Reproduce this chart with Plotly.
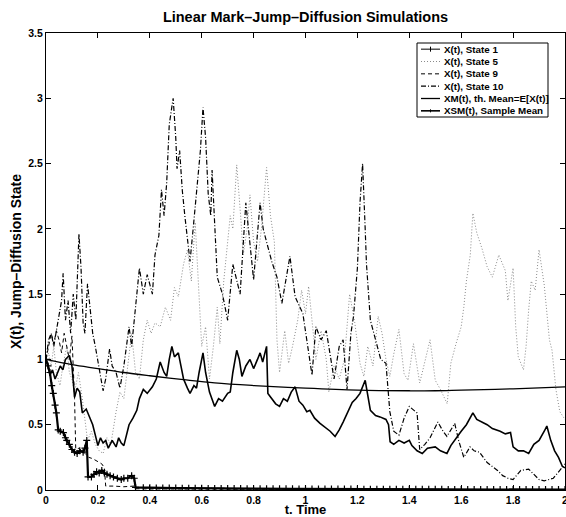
import plotly.graph_objects as go

# ---- data ----
x_tick_vals = [0, 0.2, 0.4, 0.6, 0.8, 1.0, 1.2, 1.4, 1.6, 1.8, 2.0]
x_tick_text = ["0", "0.2", "0.4", "0.6", "0.8", "1", "1.2", "1.4", "1.6", "1.8", "2"]
y_tick_vals = [0, 0.5, 1.0, 1.5, 2.0, 2.5, 3.0, 3.5]
y_tick_text = ["0", "0.5", "1", "1.5", "2", "2.5", "3", "3.5"]

series_names = ["X(t), State 1", "X(t), State 5", "X(t), State 9", "X(t), State 10",
                "XM(t), th. Mean=E[X(t)]", "XSM(t), Sample Mean"]

# State 1 (solid with markers), decays quickly to ~0
t_s1 = [0, 0.008, 0.015, 0.022, 0.028, 0.035, 0.04, 0.047, 0.055, 0.067, 0.075, 0.08, 0.09, 0.1,
        0.11, 0.12, 0.13, 0.143, 0.15, 0.157, 0.162, 0.175, 0.185, 0.195, 0.205, 0.215, 0.225,
        0.235, 0.247, 0.26, 0.275, 0.29, 0.3, 0.315, 0.33, 0.34, 0.345,
        0.375, 0.4, 0.425, 0.45, 0.475, 0.5, 0.525, 0.55, 0.575, 0.6, 0.625, 0.65, 0.675, 0.7,
        0.725, 0.75, 0.775, 0.8, 0.825, 0.85, 0.875, 0.9, 0.925, 0.95, 0.975, 1.0, 1.025, 1.05,
        1.075, 1.1, 1.125, 1.15, 1.175, 1.2, 1.225, 1.25, 1.275, 1.3, 1.325, 1.35, 1.375, 1.4,
        1.425, 1.45, 1.475, 1.5, 1.525, 1.55, 1.575, 1.6, 1.625, 1.65, 1.675, 1.7, 1.725, 1.75,
        1.775, 1.8, 1.825, 1.85, 1.875, 1.9, 1.925, 1.95, 1.975, 2.0]
x_s1 = [1.0, 0.95, 0.9, 0.8, 0.74, 0.65, 0.59, 0.46, 0.45, 0.44, 0.4, 0.38, 0.35, 0.31,
        0.29, 0.28, 0.3, 0.29, 0.32, 0.38, 0.1, 0.1, 0.12, 0.14, 0.13, 0.15, 0.13,
        0.12, 0.11, 0.1, 0.09, 0.08, 0.09, 0.09, 0.11, 0.09, 0.02,
        0.018, 0.017, 0.016, 0.016, 0.015, 0.015, 0.014, 0.014, 0.013, 0.013, 0.012, 0.012, 0.012, 0.011,
        0.011, 0.011, 0.010, 0.010, 0.010, 0.010, 0.009, 0.009, 0.009, 0.009, 0.008, 0.008, 0.008, 0.008,
        0.008, 0.007, 0.007, 0.007, 0.007, 0.007, 0.006, 0.006, 0.006, 0.006, 0.006, 0.006, 0.005, 0.005,
        0.005, 0.005, 0.005, 0.005, 0.005, 0.004, 0.004, 0.004, 0.004, 0.004, 0.004, 0.004, 0.004, 0.004,
        0.003, 0.003, 0.003, 0.003, 0.003, 0.003, 0.003, 0.003, 0.003, 0.003]

# State 5 (gray dotted)
t_s5 = [0, 0.01, 0.02, 0.03, 0.04, 0.054, 0.065, 0.08, 0.09, 0.1, 0.11, 0.125, 0.14, 0.15, 0.16,
        0.175, 0.19, 0.205, 0.22, 0.235, 0.25, 0.27, 0.285, 0.3, 0.315, 0.33, 0.345, 0.36, 0.375,
        0.39, 0.405, 0.42, 0.44, 0.46, 0.48, 0.495, 0.51, 0.53, 0.545, 0.56, 0.575, 0.59, 0.6,
        0.615, 0.63, 0.645, 0.66, 0.67, 0.685, 0.7, 0.71, 0.72, 0.735, 0.75, 0.76, 0.775, 0.786,
        0.8, 0.815, 0.83, 0.85, 0.865, 0.88, 0.89, 0.9, 0.92, 0.935, 0.95, 0.97, 0.985, 1.0,
        1.012, 1.025, 1.04, 1.06, 1.08, 1.09, 1.11, 1.13, 1.15, 1.17, 1.19, 1.21, 1.225, 1.24,
        1.26, 1.28, 1.295, 1.31, 1.325, 1.34, 1.36, 1.38, 1.395, 1.416, 1.44, 1.45, 1.48, 1.5,
        1.52, 1.546, 1.56, 1.58, 1.6, 1.61, 1.62, 1.635, 1.645, 1.66, 1.68, 1.7, 1.72, 1.745,
        1.77, 1.78, 1.8, 1.81, 1.82, 1.84, 1.85, 1.86, 1.87, 1.885, 1.9, 1.92, 1.94, 1.95,
        1.965, 1.98, 2.0]
x_s5 = [1.0, 1.05, 0.95, 1.1, 0.9, 0.8, 0.95, 1.1, 0.9, 0.85, 0.75, 0.9, 0.7, 0.55, 0.38,
        0.45, 0.35, 0.3, 0.28, 0.4, 0.35, 0.6, 0.75, 0.7, 0.95, 1.2, 0.9, 0.85, 1.15,
        1.3, 1.2, 1.28, 1.25, 1.4, 1.3, 1.55, 1.48, 1.73, 1.84, 1.6, 2.05, 1.43, 1.1,
        1.25, 0.85, 1.1, 1.4, 1.12, 1.6, 1.9, 2.1, 2.0, 2.49, 2.1, 1.8, 2.0, 2.26,
        1.9, 1.75, 2.0, 2.47, 2.1, 1.9, 1.15, 0.9, 1.22, 0.97, 1.1, 1.3, 1.53, 1.35,
        1.56, 1.28, 1.0, 1.22, 1.0, 0.75, 0.95, 0.85, 1.0, 1.5, 1.28, 0.97, 0.87, 1.1,
        0.95, 1.33, 1.2, 1.0, 0.87, 1.04, 1.23, 0.89, 0.84, 1.12, 0.82, 0.9, 1.15, 0.84,
        0.77, 0.66, 0.97, 1.12, 1.25, 1.4, 1.6, 1.8, 2.12, 1.97, 1.85, 1.71, 1.63, 1.8,
        1.68, 1.45, 1.7, 1.25, 1.02, 0.92, 1.1, 1.38, 1.6, 1.53, 1.84, 1.57, 1.15, 1.07,
        0.77, 0.6, 0.54]

# State 9 (dashed), drops to ~0 early
t_s9 = [0, 0.01, 0.02, 0.03, 0.04, 0.05, 0.06, 0.07, 0.08, 0.09, 0.1, 0.105, 0.11, 0.115, 0.125,
        0.14, 0.155, 0.165, 0.18, 0.2, 0.215, 0.225, 0.23, 0.26, 0.3, 0.34, 0.345, 0.4, 0.6,
        0.8, 1.0, 1.2, 1.4, 1.6, 1.8, 2.0]
x_s9 = [1.0, 1.1, 1.2, 1.12, 1.22, 1.15, 1.05, 1.2, 1.1, 1.0, 1.18, 0.95, 0.7, 0.28, 0.32,
        0.3, 0.27, 0.25, 0.24, 0.22, 0.2, 0.17, 0.03, 0.03, 0.025, 0.03, 0.01, 0.008, 0.006,
        0.005, 0.004, 0.004, 0.003, 0.003, 0.002, 0.002]

# State 10 (dash-dot), the tall excursions
t_s10 = [0, 0.01, 0.02, 0.03, 0.04, 0.05, 0.06, 0.066, 0.075, 0.085, 0.095, 0.105, 0.115, 0.127,
         0.135, 0.143, 0.15, 0.16, 0.17, 0.18, 0.19, 0.208, 0.22, 0.23, 0.245, 0.255, 0.27,
         0.285, 0.3, 0.32, 0.33, 0.345, 0.36, 0.375, 0.39, 0.41, 0.42, 0.435, 0.445, 0.455,
         0.465, 0.475, 0.49, 0.5, 0.505, 0.515, 0.525, 0.535, 0.545, 0.555, 0.567, 0.58, 0.595,
         0.605, 0.615, 0.625, 0.635, 0.64, 0.65, 0.66, 0.68, 0.7, 0.72, 0.735, 0.748, 0.77,
         0.786, 0.8, 0.825, 0.837, 0.85, 0.87, 0.89, 0.909, 0.94, 0.96, 0.99, 1.025, 1.04,
         1.06, 1.08, 1.11, 1.13, 1.145, 1.16, 1.175, 1.185, 1.2, 1.21, 1.22, 1.23, 1.235, 1.25,
         1.27, 1.29, 1.31, 1.325, 1.34, 1.36, 1.38, 1.4, 1.43, 1.44, 1.46, 1.48, 1.51, 1.53,
         1.545, 1.575, 1.59, 1.61, 1.634, 1.65, 1.67, 1.7, 1.72, 1.74, 1.76, 1.78, 1.8, 1.83,
         1.86, 1.88, 1.9, 1.92, 1.955, 1.98, 2.0]
x_s10 = [1.0, 1.15, 1.2, 1.1, 1.22, 1.35, 1.45, 1.66, 1.3, 1.45, 1.2, 1.5, 1.3, 1.96,
         1.7, 1.28, 1.2, 1.58, 1.4, 1.2, 1.1, 0.88, 0.76, 0.85, 1.08, 0.95, 0.9,
         0.78, 0.95, 1.25, 1.1, 1.4, 1.7, 1.5, 1.65, 1.5, 1.8, 1.95, 2.3, 2.1,
         2.35, 2.8, 3.0, 2.7, 2.46, 2.6, 2.3, 2.1, 1.9, 1.75, 2.0, 2.3, 2.6,
         2.93, 2.7, 2.27, 2.1, 2.45, 2.0, 1.63, 1.5, 1.3, 1.73, 1.6, 1.5, 2.2,
         1.91, 1.61, 2.2, 2.0, 1.9, 1.75, 1.63, 1.43, 1.79, 1.48, 1.35, 0.88, 1.25,
         1.15, 1.22, 0.85, 1.1, 1.15, 0.77, 1.2, 1.33, 1.7, 2.2, 2.5, 2.0, 1.73, 1.3,
         1.14, 1.0, 0.97, 0.6, 0.45, 0.42, 0.55, 0.64, 0.59, 0.31, 0.35, 0.4, 0.52, 0.45,
         0.41, 0.51, 0.38, 0.25, 0.33, 0.3, 0.29, 0.21, 0.18, 0.15, 0.11, 0.09, 0.08, 0.15,
         0.16, 0.12, 0.08, 0.07, 0.09, 0.15, 0.2]

# XM(t): theoretical mean
t_xm = [0, 0.1, 0.2, 0.3, 0.4, 0.53, 0.65, 0.8, 1.0, 1.2, 1.4, 1.5, 1.6, 1.8, 2.0]
x_xm = [1.0, 0.96, 0.93, 0.9, 0.875, 0.845, 0.82, 0.80, 0.78, 0.765, 0.76, 0.76, 0.765, 0.775, 0.79]

# XSM(t): sample mean
t_xsm = [0, 0.008, 0.015, 0.025, 0.035, 0.045, 0.055, 0.065, 0.075, 0.09, 0.1, 0.11, 0.12, 0.13,
         0.14, 0.155, 0.17, 0.18, 0.19, 0.2, 0.21, 0.22, 0.23, 0.24, 0.255, 0.27, 0.28, 0.29,
         0.3, 0.31, 0.32, 0.335, 0.35, 0.36, 0.375, 0.39, 0.41, 0.425, 0.44, 0.455, 0.465,
         0.475, 0.485, 0.495, 0.51, 0.52, 0.53, 0.545, 0.555, 0.57, 0.58, 0.59, 0.605, 0.615,
         0.63, 0.65, 0.665, 0.68, 0.7, 0.71, 0.72, 0.735, 0.745, 0.755, 0.77, 0.786, 0.8,
         0.815, 0.825, 0.835, 0.85, 0.855, 0.87, 0.885, 0.9, 0.915, 0.93, 0.945, 0.96, 0.975,
         0.99, 1.005, 1.017, 1.035, 1.056, 1.075, 1.095, 1.114, 1.13, 1.145, 1.165, 1.18,
         1.195, 1.21, 1.23, 1.24, 1.25, 1.27, 1.287, 1.31, 1.32, 1.326, 1.34, 1.36, 1.38, 1.4,
         1.41, 1.43, 1.45, 1.47, 1.5, 1.52, 1.545, 1.56, 1.58, 1.6, 1.62, 1.645, 1.66, 1.68,
         1.7, 1.72, 1.75, 1.77, 1.79, 1.8, 1.82, 1.84, 1.86, 1.88, 1.9, 1.92, 1.93, 1.945,
         1.96, 1.975, 1.99, 2.0]
x_xsm = [1.0, 0.95, 0.88, 0.92, 0.85, 0.9, 0.95, 0.92, 1.0, 1.03, 0.95, 0.71, 0.78, 0.75,
         0.59, 0.62, 0.55, 0.5, 0.42, 0.34, 0.4, 0.36, 0.38, 0.32, 0.38, 0.33, 0.4, 0.36,
         0.34, 0.42, 0.5, 0.55, 0.61, 0.7, 0.77, 0.74, 0.79, 0.85, 0.98, 0.9, 0.87,
         1.0, 1.1, 1.02, 1.05, 0.95, 0.85, 0.78, 0.74, 0.8, 0.78, 0.9, 1.05, 0.9,
         0.75, 0.64, 0.7, 0.68, 0.74, 0.75, 0.9, 1.07, 1.0, 0.87, 0.95, 1.0, 0.93,
         1.0, 1.05, 0.98, 1.1, 0.74, 0.7, 0.66, 0.64, 0.7, 0.68, 0.75, 0.79, 0.68,
         0.65, 0.6, 0.61, 0.55, 0.51, 0.48, 0.45, 0.41, 0.46, 0.52, 0.6, 0.67,
         0.7, 0.74, 0.84, 0.72, 0.61, 0.57, 0.56, 0.54, 0.5, 0.37, 0.35, 0.38, 0.36, 0.38,
         0.34, 0.3, 0.28, 0.32, 0.33, 0.3, 0.28, 0.34, 0.4, 0.45, 0.5, 0.59, 0.54, 0.52,
         0.5, 0.47, 0.45, 0.43, 0.44, 0.33, 0.3, 0.3, 0.28, 0.35, 0.38, 0.45, 0.49, 0.38,
         0.3, 0.25, 0.18, 0.17]

# ---- styling ----
BOLD = dict(family="Liberation Sans, Arial, sans-serif", color="black", weight="bold")
W, H = 566, 517
ML, MR, MT, MB = 46, 1, 33, 27

styles = [
    dict(color="black", width=2.2, dash="solid"),
    dict(color="#8a8a8a", width=1, dash="1px,2px"),
    dict(color="black", width=1, dash="4px,3px"),
    dict(color="black", width=1.2, dash="5px,2px,1px,2px"),
    dict(color="black", width=1.3, dash="solid"),
    dict(color="black", width=1.6, dash="solid"),
]
series = [(t_s1, x_s1), (t_s5, x_s5), (t_s9, x_s9), (t_s10, x_s10), (t_xm, x_xm), (t_xsm, x_xsm)]

fig = go.Figure()
for i, ((tt, xx), name, st) in enumerate(zip(series, series_names, styles)):
    if i == 0:
        fig.add_trace(go.Scatter(x=tt, y=xx, mode="lines+markers", name=name, line=st,
                                 marker=dict(symbol="cross-thin", size=5,
                                             line=dict(width=1.2, color="black")),
                                 showlegend=False))
    else:
        line = dict(st)
        if i == 4:
            line["shape"] = "spline"
        fig.add_trace(go.Scatter(x=tt, y=xx, mode="lines", name=name, line=line, showlegend=False))


# ---- legend drawn as a framed box in pixel positions (like the MATLAB legend) ----
def px_x(px):
    return (px - ML) / (W - ML - MR)


def px_y(py):
    return (H - MB - py) / (H - MT - MB)


shapes = []
annotations = []
box_l, box_r, box_t, box_b = 417, 548, 43, 117
shapes.append(dict(type="rect", xref="paper", yref="paper", x0=px_x(box_l), x1=px_x(box_r),
                   y0=px_y(box_b), y1=px_y(box_t), fillcolor="white",
                   line=dict(color="black", width=1), layer="above"))
row_h = (box_b - box_t) / len(series_names)
for i, (name, st) in enumerate(zip(series_names, styles)):
    yc = box_t + row_h * (i + 0.5)
    lw = st["width"] if i != 0 else 1
    shapes.append(dict(type="line", xref="paper", yref="paper", x0=px_x(421), x1=px_x(440),
                       y0=px_y(yc), y1=px_y(yc),
                       line=dict(color=st["color"], width=lw, dash=st["dash"]), layer="above"))
    if i == 0:
        shapes.append(dict(type="line", xref="paper", yref="paper", x0=px_x(430.5), x1=px_x(430.5),
                           y0=px_y(yc - 2.5), y1=px_y(yc + 2.5),
                           line=dict(color="black", width=1), layer="above"))
    if i == 5:
        shapes.append(dict(type="line", xref="paper", yref="paper", x0=px_x(430.5), x1=px_x(430.5),
                           y0=px_y(yc - 1.5), y1=px_y(yc + 1.5),
                           line=dict(color="black", width=1), layer="above"))
    annotations.append(dict(text=name, xref="paper", yref="paper", x=px_x(442), y=px_y(yc),
                            xanchor="left", yanchor="middle", showarrow=False,
                            font=dict(size=9.8, **BOLD)))

axis_common = dict(showline=True, linecolor="black", linewidth=1, mirror="ticks",
                   ticks="inside", ticklen=5, tickcolor="black", showgrid=False,
                   zeroline=False, automargin=False, ticklabeloverflow="allow",
                   tickfont=dict(size=10.5, **BOLD))

fig.update_layout(
    width=W, height=H,
    margin=dict(l=ML, r=MR, t=MT, b=MB),
    paper_bgcolor="white", plot_bgcolor="white",
    title=dict(text="Linear Mark–Jump–Diffusion Simulations", x=0.5, xref="paper",
               xanchor="center", y=1 - 17 / H, yref="container", yanchor="middle",
               font=dict(size=14.5, **BOLD)),
    xaxis=dict(range=[0, 2], tickvals=x_tick_vals, ticktext=x_tick_text,
               title=dict(text="t. Time", font=dict(size=13, **BOLD), standoff=3),
               **axis_common),
    yaxis=dict(range=[0, 3.5], tickvals=y_tick_vals, ticktext=y_tick_text,
               title=dict(text="X(t), Jump–Diffusion State", font=dict(size=14, **BOLD), standoff=3),
               **axis_common),
    shapes=shapes,
    annotations=annotations,
    showlegend=False,
)

fig.write_html("out.html", config={"displayModeBar": False},
               post_script="document.body.style.margin='0';document.body.style.overflow='hidden';")
